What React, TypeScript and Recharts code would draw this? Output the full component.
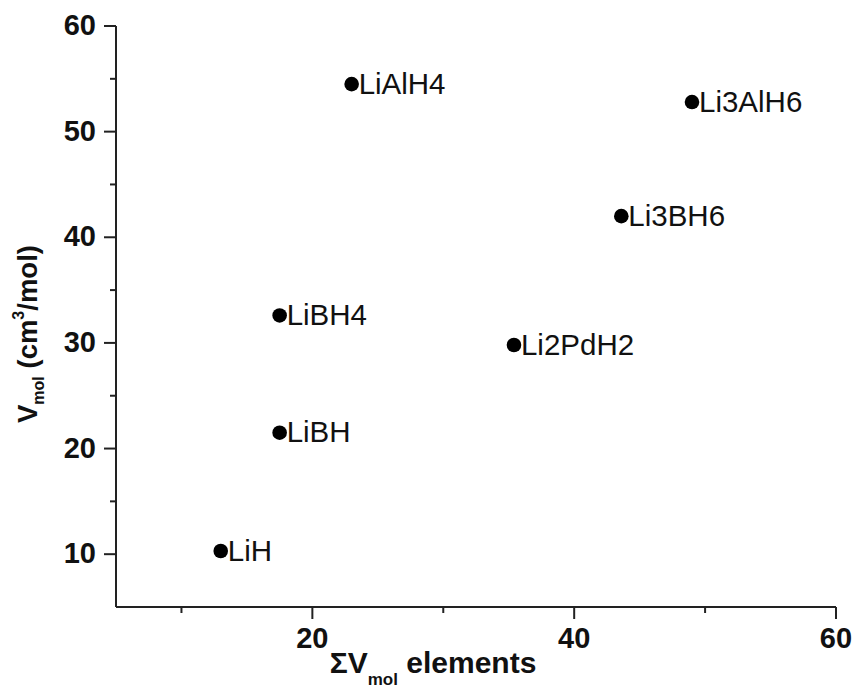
import React from 'react';
import { ScatterChart, Scatter, XAxis, YAxis, Label } from 'recharts';

const compounds = ['LiH', 'LiBH', 'LiBH4', 'LiAlH4', 'Li2PdH2', 'Li3BH6', 'Li3AlH6'];
const sumVmolElements = [13.0, 17.5, 17.5, 23.0, 35.4, 43.6, 49.0];
const vmol = [10.3, 21.5, 32.6, 54.5, 29.8, 42.0, 52.8];

const xTicks = [10, 20, 30, 40, 50, 60];
const xLabeledTicks = [20, 40, 60];
const yTicks = [10, 15, 20, 25, 30, 35, 40, 45, 50, 55, 60];
const yLabeledTicks = [10, 20, 30, 40, 50, 60];

const data = compounds.map((name, i) => ({ name, x: sumVmolElements[i], y: vmol[i] }));

const FONT = '"Liberation Sans", Arial, Helvetica, sans-serif';
const AX = '#222';

const XTick = (props: any) => {
  const { x, y, payload } = props;
  const major = xLabeledTicks.includes(payload.value);
  return (
    <g>
      <line x1={x} x2={x} y1={y} y2={y + (major ? 12 : 6)} stroke={AX} strokeWidth={2} />
      {major && (
        <text x={x} y={y + 41} textAnchor="middle" fontFamily={FONT} fontWeight="bold" fontSize={29} fill="#111">
          {payload.value}
        </text>
      )}
    </g>
  );
};

const YTick = (props: any) => {
  const { x, y, payload } = props;
  const major = yLabeledTicks.includes(payload.value);
  return (
    <g>
      <line x1={x - (major ? 12 : 6)} x2={x} y1={y} y2={y} stroke={AX} strokeWidth={2} />
      {major && (
        <text x={x - 20} y={y + 9} textAnchor="end" fontFamily={FONT} fontWeight="bold" fontSize={29} fill="#111">
          {payload.value}
        </text>
      )}
    </g>
  );
};

const PointShape = (props: any) => {
  const { cx, cy, payload } = props;
  return (
    <g>
      <circle cx={cx} cy={cy} r={7.3} fill="#000" />
      <text x={cx + 7} y={cy + 9.5} fontFamily={FONT} fontSize={29.5} fill="#111">
        {payload.name}
      </text>
    </g>
  );
};

const XTitle = () => {
  const cx = 433;
  const by = 673;
  return (
    <text x={cx} y={by} textAnchor="middle" fontFamily={FONT} fontWeight="bold" fontSize={30} fill="#111">
      <tspan>ΣV</tspan>
      <tspan fontSize={17} dy={12}>mol</tspan>
      <tspan dy={-12}> elements</tspan>
    </text>
  );
};

const YTitle = () => {
  const cx = 37;
  const cy = 334;
  return (
    <text
      x={cx}
      y={cy}
      transform={`rotate(-90 ${cx} ${cy})`}
      textAnchor="middle"
      fontFamily={FONT}
      fontWeight="bold"
      fontSize={27.5}
      fill="#111"
    >
      <tspan>V</tspan>
      <tspan fontSize={16} dy={7}>mol</tspan>
      <tspan dy={-7}> (cm</tspan>
      <tspan fontSize={16} dy={-13}>3</tspan>
      <tspan dy={13}>/mol)</tspan>
    </text>
  );
};

export default function App() {
  return (
    <div style={{ position: 'absolute', left: 0, top: 0, width: 857, height: 690, background: '#fff' }}>
      <ScatterChart width={857} height={690} margin={{ top: 26, right: 21, bottom: 23, left: 56 }}>
        <XAxis
          type="number"
          dataKey="x"
          domain={[5, 60]}
          ticks={xTicks}
          interval={0}
          tickSize={0}
          tickMargin={0}
          tickLine={false}
          tick={<XTick />}
          height={60}
          axisLine={{ stroke: AX, strokeWidth: 2 }}
          allowDataOverflow
        >
          <Label content={<XTitle />} />
        </XAxis>
        <XAxis
          xAxisId="top"
          orientation="top"
          type="number"
          domain={[5, 60]}
          height={0}
          tick={false}
          tickLine={false}
          axisLine={{ stroke: AX, strokeWidth: 2 }}
        />
        <YAxis
          type="number"
          dataKey="y"
          domain={[5, 60]}
          ticks={yTicks}
          interval={0}
          tickSize={0}
          tickMargin={0}
          tickLine={false}
          tick={<YTick />}
          width={60}
          axisLine={{ stroke: AX, strokeWidth: 2 }}
          allowDataOverflow
        >
          <Label content={<YTitle />} />
        </YAxis>
        <YAxis
          yAxisId="right"
          orientation="right"
          type="number"
          domain={[5, 60]}
          width={0}
          tick={false}
          tickLine={false}
          axisLine={{ stroke: AX, strokeWidth: 2 }}
        />
        <Scatter data={data} shape={<PointShape />} isAnimationActive={false} />
      </ScatterChart>
    </div>
  );
}
